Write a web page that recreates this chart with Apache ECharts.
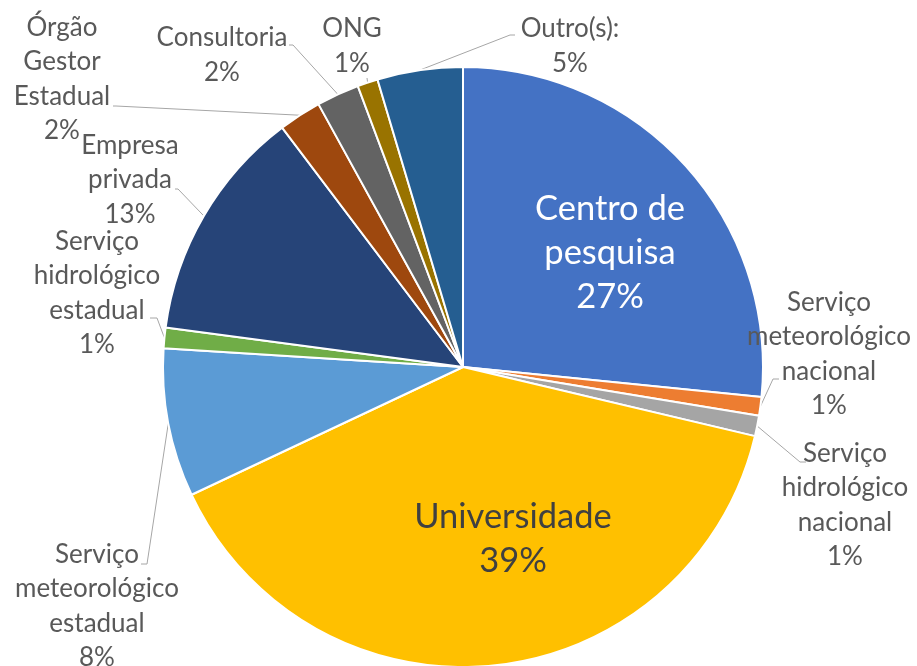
<!DOCTYPE html>
<html>
<head>
<meta charset="utf-8">
<script src="https://cdn.jsdelivr.net/npm/echarts@6/dist/echarts.min.js"></script>
<style>
html,body{margin:0;padding:0;background:#fff;}
#chart{width:917px;height:666px;}
</style>
</head>
<body>
<div id="chart"></div>
<script>
// Categories (line breaks as shown in the reference labels)
const categories = [
  "Centro de\npesquisa",
  "Serviço\nmeteorológico\nnacional",
  "Serviço\nhidrológico\nnacional",
  "Universidade",
  "Serviço\nmeteorológico\nestadual",
  "Serviço\nhidrológico\nestadual",
  "Empresa\nprivada",
  "Órgão\nGestor\nEstadual",
  "Consultoria",
  "ONG",
  "Outro(s):"
];
// Share of respondents (%)
const values = [26.6, 1.0, 1.1, 39.3, 8.0, 1.1, 12.6, 2.3, 2.3, 1.1, 4.6];

const colors = ["#4472C4","#ED7D31","#A5A5A5","#FFC000","#5B9BD5","#70AD47",
                "#264478","#9E480E","#636363","#997300","#255E91"];

// label centres (layout styling)
const labelPos = [
  [610, 253], [829, 354], [845, 505], [513, 539], [97, 606], [97, 293],
  [130, 180], [62, 79], [222, 55], [352, 46], [570, 46]
];
// leader line bend / end points (layout styling)
const leaderEnds = [
  null,
  [[773, 379], [779, 379]],
  [[800, 462], [806, 462]],
  null,
  [[147, 564], [141, 564]],
  [[157, 318], [150, 318]],
  [[178, 189], [175, 189]],
  [[116, 106], [113, 106]],
  [[293, 45], [289, 45]],
  [[367, 78], [367, 78]],
  [[510, 35], [515, 35]]
];

const insideIdx = [0, 3];
const data = categories.map((c, i) => {
  const item = { name: c, value: values[i], itemStyle: { color: colors[i] } };
  if (insideIdx.includes(i)) {
    item.label = {
      fontSize: 34.5, lineHeight: 44,
      color: i === 0 ? "#ffffff" : "#404040"
    };
    item.labelLine = { show: false };
  }
  return item;
});

const chart = echarts.init(document.getElementById("chart"), null, { renderer: "canvas" });
chart.setOption({
  animation: false,
  series: [{
    type: "pie",
    center: [463, 367],
    radius: [0, 300],
    startAngle: 90,
    clockwise: true,
    data: data,
    itemStyle: { borderColor: "#ffffff", borderWidth: 2 },
    label: {
      show: true,
      position: "outside",
      fontFamily: "Lato, 'Open Sans', sans-serif",
      fontSize: 26,
      lineHeight: 34.3,
      color: "#595959",
      align: "center",
      overflow: "none",
      formatter: p => p.name + "\n" + Math.round(p.percent) + "%"
    },
    labelLine: {
      show: true,
      length: 10,
      length2: 10,
      lineStyle: { color: "#A6A6A6", width: 1 }
    },
    labelLayout: function (params) {
      const i = params.dataIndex;
      const p = labelPos[i];
      const out = { x: p[0], y: p[1], align: "center", verticalAlign: "middle", hideOverlap: false };
      const le = leaderEnds[i];
      if (le && params.labelLinePoints) {
        out.labelLinePoints = [params.labelLinePoints[0], le[0], le[1]];
      }
      return out;
    }
  }]
});
</script>
</body>
</html>
